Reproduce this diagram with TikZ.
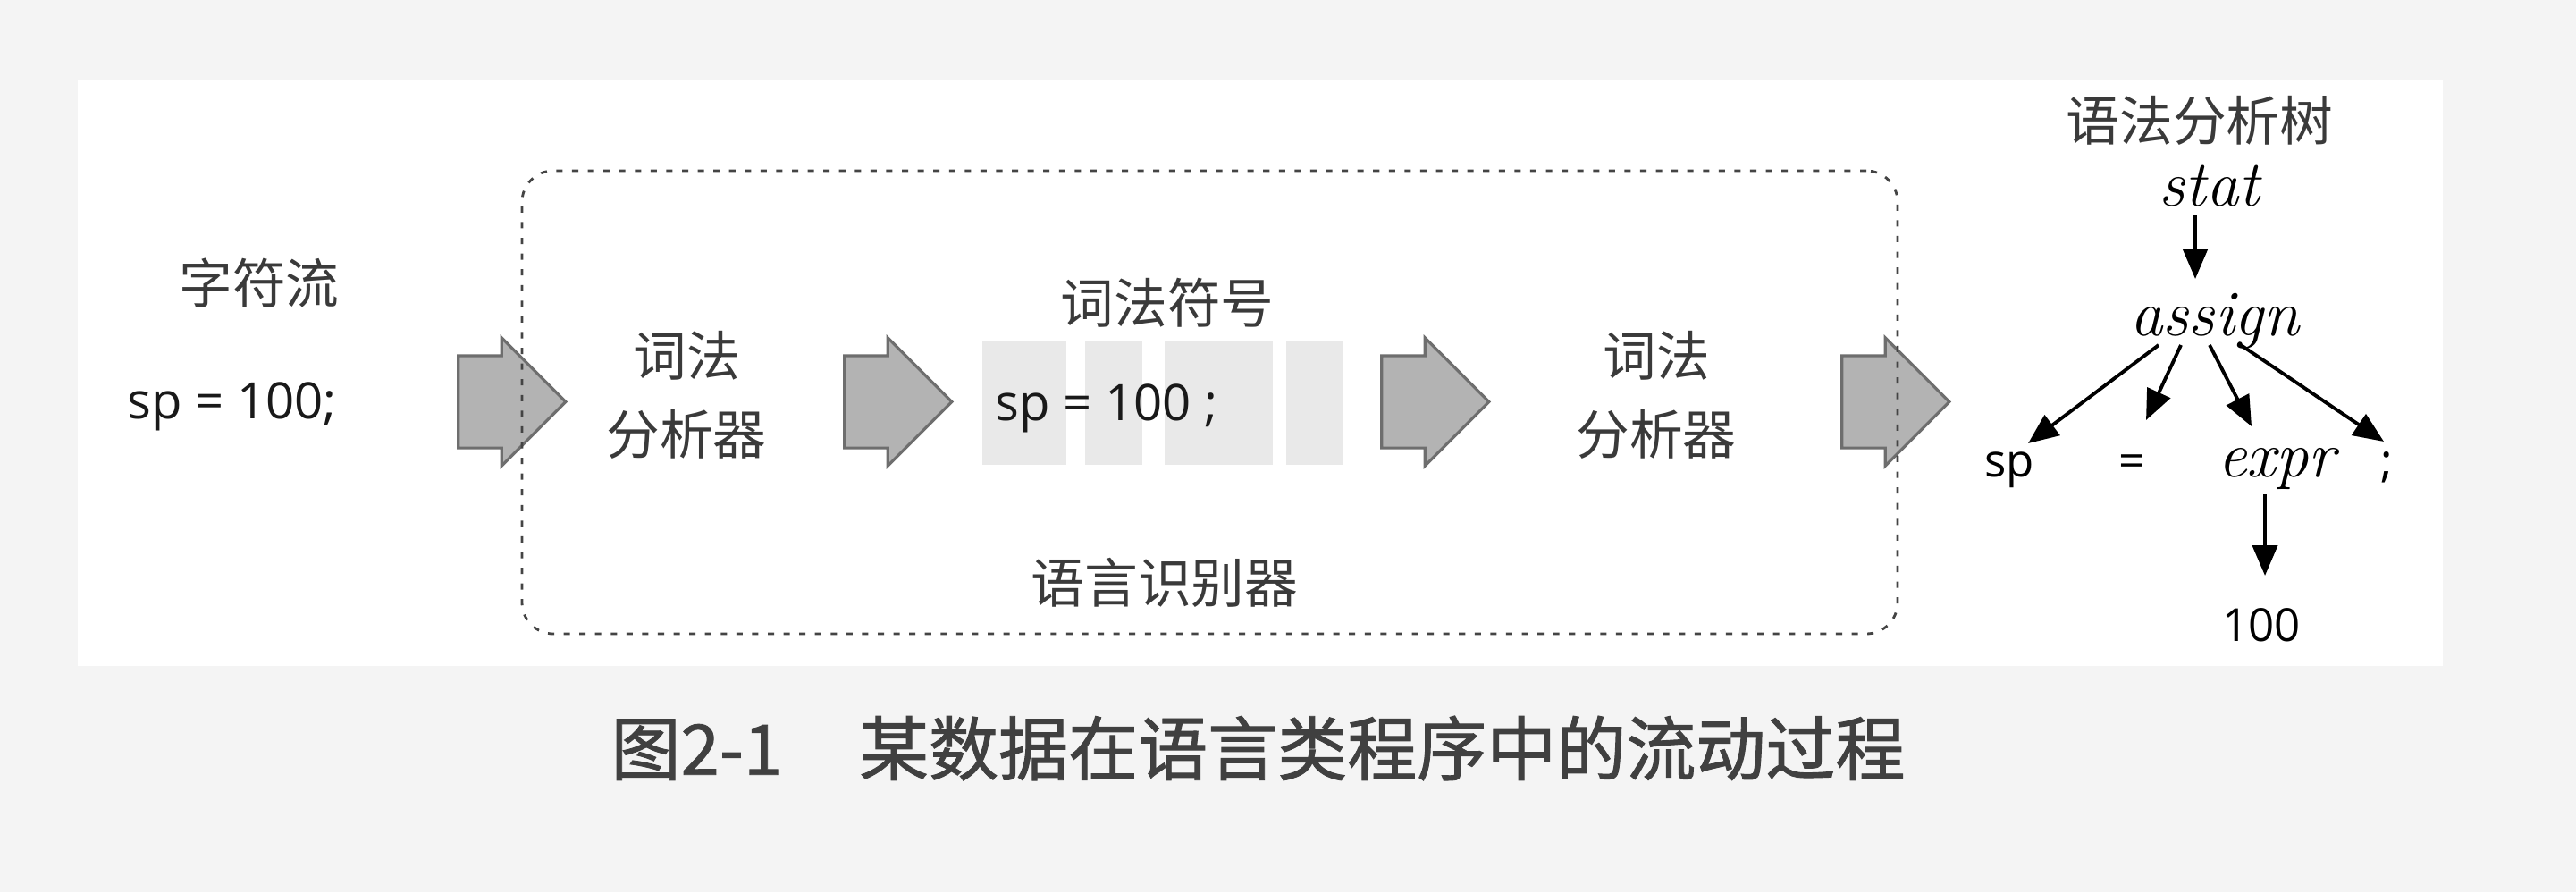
\documentclass[tikz,border=0pt]{standalone}
\usepackage{fontspec}
\newfontfamily\cjk{Noto Sans CJK SC}
\newfontfamily\capfont[FakeBold=1.2]{Noto Sans CJK SC}
\newfontfamily\codefont{Open Sans}
\usepackage{xcolor}
\usetikzlibrary{shapes.arrows, arrows.meta, positioning, calc}

\definecolor{pagebg}{HTML}{F4F4F4}
\definecolor{textgray}{HTML}{3A3A3A}
\definecolor{captext}{HTML}{404040}
\definecolor{arrowfill}{HTML}{B3B3B3}
\definecolor{arrowedge}{HTML}{6E6E6E}
\definecolor{tokfill}{HTML}{E9E9E9}
\definecolor{boxedge}{HTML}{444444}

\begin{document}
\begin{tikzpicture}[
    cjktext/.style={font=\cjk\fontsize{17}{25}\selectfont, text=textgray, inner sep=0, align=center},
    srctext/.style={font=\codefont\fontsize{16}{19}\selectfont, text=black!90, inner sep=0},
    flow/.style={single arrow, draw=arrowedge, fill=arrowfill, line width=0.9pt, minimum height=1.2cm, inner xsep=0, inner ysep=0.5cm, single arrow head extend=0.2cm},
    tokbox/.style={fill=tokfill, minimum height=1.38cm, inner sep=0},
    recogbox/.style={draw=boxedge, line width=0.8pt, dash pattern=on 2pt off 3pt, rounded corners=0.35cm, minimum width=15.39cm, minimum height=5.18cm},
    nonterm/.style={font=\fontsize{20.7}{24}\selectfont\itshape, inner sep=0},
    term/.style={font=\codefont\fontsize{14.5}{17}\selectfont, inner sep=0},
    tarrow/.style={-{Triangle[length=3.4mm, width=2.8mm]}, line width=1.1pt}
]
\useasboundingbox (0,0) rectangle (28.82,9.98);
\fill[pagebg] (0,0) rectangle (28.82,9.98);
\fill[white] (0.87,2.53) rectangle (27.33,9.09);

% input characters
\node[cjktext] (chars) at (2.90,6.81) {字符流};
\node[srctext, anchor=base west] (src) at (1.42,5.30) {sp = 100;};

% big flow arrows
\node[flow] (a1) at (5.47,5.485) {};
\node[flow] (a2) at (9.79,5.485) {};
\node[flow] (a3) at (15.80,5.485) {};
\node[flow] (a4) at (20.95,5.485) {};

% lexer
\node[cjktext] (lexer) at (7.68,5.565) {词法\\分析器};

% token stream
\node[tokbox, minimum width=0.94cm] (tok1) at (11.46,5.47) {};
\node[tokbox, minimum width=0.64cm, right=0.2cm of tok1] (tok2) {};
\node[tokbox, minimum width=1.21cm, right=0.23cm of tok2] (tok3) {};
\node[tokbox, minimum width=0.64cm, right=0.14cm of tok3] (tok4) {};
\node[srctext, anchor=base west] (toktext) at (11.13,5.28) {sp = 100 ;};
\node[cjktext] (tokens) at (13.06,6.59) {词法符号};

% parser
\node[cjktext] (parser) at (18.53,5.565) {词法\\分析器};

% recognizer frame
\node[recogbox] (recog) at (13.535,5.48) {};
\node[cjktext] (recoglabel) at (13.03,3.46) {语言识别器};

% parse tree
\node[cjktext] (treelabel) at (24.61,8.63) {语法分析树};
\node[nonterm, anchor=base] (stat) at (24.72,7.68) {stat};
\node[nonterm, anchor=base] (assign) at (24.78,6.23) {assign};
\node[term, anchor=base] (sp) at (22.48,4.65) {sp};
\node[term, anchor=base] (eq) at (23.85,4.65) {=};
\node[nonterm, anchor=base] (expr) at (25.47,4.65) {expr};
\node[term, anchor=base] (semi) at (26.70,4.65) {;};
\node[term, anchor=base] (num) at (25.30,2.81) {100};

\draw[tarrow] ($(stat.base)+(-0.16,-0.10)$) -- ($(assign.base)+(-0.22,0.63)$);
\draw[tarrow] ($(assign.base)+(-0.63,-0.11)$) -- ($(sp.base)+(0.21,0.37)$);
\draw[tarrow] ($(assign.base)+(-0.38,-0.11)$) -- ($(eq.base)+(0.16,0.63)$);
\draw[tarrow] ($(assign.base)+(-0.06,-0.11)$) -- ($(expr.base)+(-0.28,0.56)$);
\draw[tarrow] ($(assign.base)+(0.26,-0.09)$) -- ($(semi.base)+(-0.03,0.39)$);
\draw[tarrow] ($(expr.base)+(-0.13,-0.20)$) -- ($(num.base)+(0.04,0.73)$);

% caption
\node[font=\capfont\fontsize{22.2}{26}\selectfont, text=captext, inner sep=0] (caption) at (14.075,1.61) {图2-1\hspace{1.1em}某数据在语言类程序中的流动过程};
\end{tikzpicture}
\end{document}
